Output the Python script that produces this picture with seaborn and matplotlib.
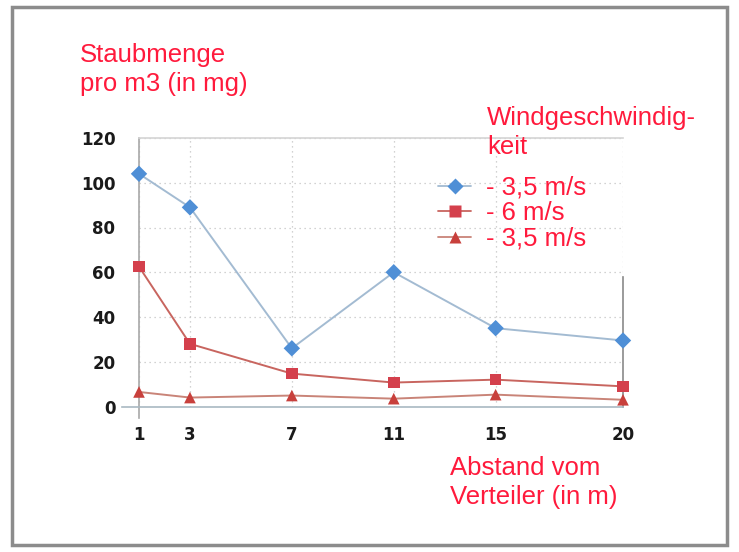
import seaborn as sns
import pandas as pd
import matplotlib.pyplot as plt
from matplotlib.patches import Rectangle
from matplotlib.lines import Line2D

# Daten aus dem Diagramm
abstand = [1, 3, 7, 11, 15, 20]
wind_35_a = [104, 89, 26, 60, 35, 29.5]
wind_6 = [62.5, 28, 14.7, 10.7, 12, 9]
wind_35_b = [6.5, 4, 4.9, 3.5, 5.3, 3]
serien = ['- 3,5 m/s', '- 6 m/s', '- 3,5 m/s ']
y_ticks = [0, 20, 40, 60, 80, 100, 120]

df = pd.DataFrame({
    'Abstand': abstand * 3,
    'Staub': wind_35_a + wind_6 + wind_35_b,
    'Serie': [serien[0]] * 6 + [serien[1]] * 6 + [serien[2]] * 6,
})

linien = {serien[0]: '#a3bbd2', serien[1]: '#c8655f', serien[2]: '#c98478'}
punkte = {serien[0]: '#4f8fd6', serien[1]: '#d4404c', serien[2]: '#c8403c'}
marker = {serien[0]: 'D', serien[1]: 's', serien[2]: '^'}
rot = '#ff1a3c'

sns.set_style('white')
plt.rcParams['font.family'] = ['Liberation Sans', 'DejaVu Sans']

fig = plt.figure(figsize=(7.39, 5.52), dpi=100)
ax = fig.add_axes([139 / 739, 1 - 406.5 / 552, 484 / 739, 268.5 / 552])

sns.lineplot(data=df, x='Abstand', y='Staub', hue='Serie', palette=linien,
             linewidth=1.4, legend=False, ax=ax)
sns.scatterplot(data=df, x='Abstand', y='Staub', hue='Serie', style='Serie',
                palette=punkte, markers=marker, s=70, edgecolor='none',
                legend=False, ax=ax, zorder=5)
for coll in ax.collections:
    coll.set_clip_on(False)

ax.set_xlim(1, 20)
ax.set_ylim(0, 120)
ax.set_xticks(abstand)
ax.set_yticks(y_ticks)
ax.set_xlabel('')
ax.set_ylabel('')
ax.grid(True, linestyle=(0, (1, 3)), color='#c4c4c4', linewidth=0.9)
ax.tick_params(axis='x', length=0, pad=14)
ax.tick_params(axis='y', length=0, pad=17)
for lab in ax.get_xticklabels() + ax.get_yticklabels():
    lab.set_family('DejaVu Sans')
    lab.set_fontweight('bold')
    lab.set_fontsize(12)
    lab.set_color('#1a1a1a')

ax.spines['left'].set_color('#a8a8a8')
ax.spines['left'].set_bounds(-5, 120)
ax.spines['bottom'].set_color('#a9b9c2')
ax.spines['bottom'].set_bounds(0.35, 20)
ax.spines['top'].set_color('#d4d4d4')
ax.spines['right'].set_color('#8a8a8a')
ax.spines['right'].set_bounds(0, 58)
for sp in ax.spines.values():
    sp.set_linewidth(1.2)

# Legende mit roter Beschriftung
handles = [Line2D([], [], color=linien[s], marker=marker[s],
                  markerfacecolor=punkte[s], markeredgecolor='none',
                  markersize=8, linewidth=1.3) for s in serien]
leg = ax.legend(handles, serien, loc='upper left',
                bbox_to_anchor=(438 / 739, 1 - 176 / 552),
                bbox_transform=fig.transFigure, frameon=False,
                fontsize=18.5, labelspacing=0.05, handlelength=1.3,
                handletextpad=0.55, borderpad=0, borderaxespad=0)
for t in leg.get_texts():
    t.set_color(rot)

fig.text(487 / 739, 1 - 106 / 552, 'Windgeschwindig-\nkeit', color=rot,
         fontsize=18.5, va='top', ha='left', linespacing=1.25)
fig.text(80 / 739, 1 - 43 / 552, 'Staubmenge\npro m3 (in mg)', color=rot,
         fontsize=18.5, va='top', ha='left', linespacing=1.25)
fig.text(450 / 739, 1 - 456 / 552, 'Abstand vom\nVerteiler (in m)', color=rot,
         fontsize=18.5, va='top', ha='left', linespacing=1.25)

fig.patches.append(Rectangle((12 / 739, 7 / 552), 715 / 739, 538 / 552,
                             transform=fig.transFigure, fill=False,
                             edgecolor='#8c8c8c', linewidth=2.5))

fig.savefig('out.png', dpi=100)
